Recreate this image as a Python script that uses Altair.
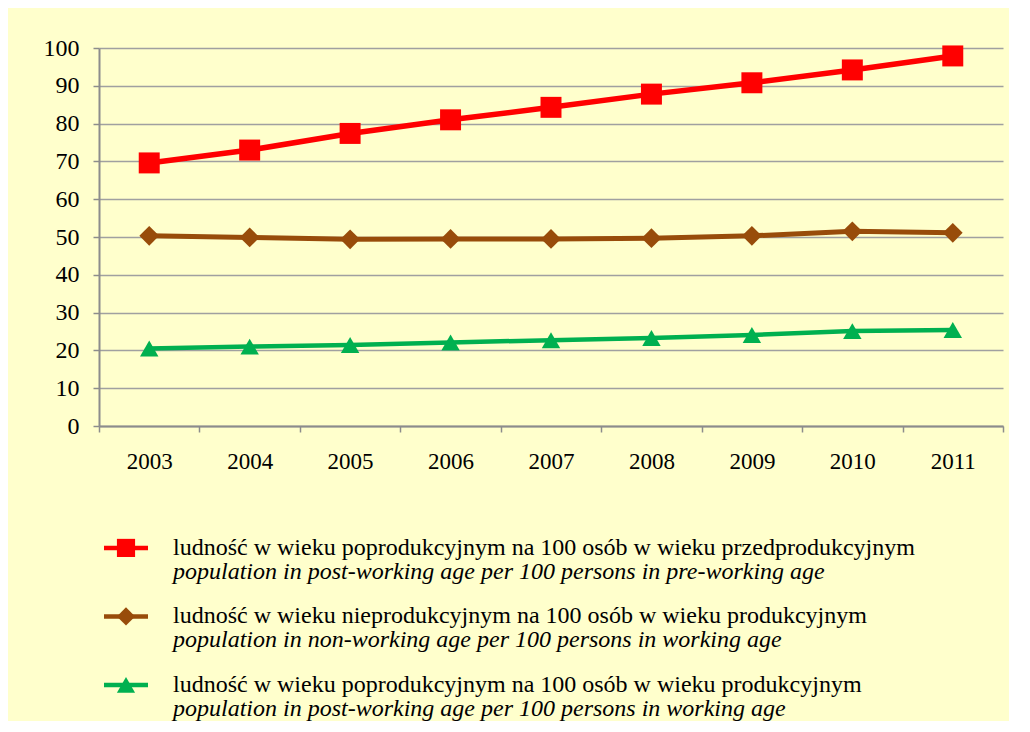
import altair as alt
import pandas as pd

years = ["2003", "2004", "2005", "2006", "2007", "2008", "2009", "2010", "2011"]
post_per_pre = [69.6, 73.0, 77.4, 81.0, 84.3, 87.8, 90.8, 94.2, 97.9]
non_per_working = [50.3, 49.9, 49.4, 49.5, 49.5, 49.7, 50.3, 51.5, 51.1]
post_per_working = [20.5, 21.0, 21.4, 22.1, 22.7, 23.3, 24.1, 25.1, 25.4]

series_pl = [
    "ludność w wieku poprodukcyjnym na 100 osób w wieku przedprodukcyjnym",
    "ludność w wieku nieprodukcyjnym na 100 osób w wieku produkcyjnym",
    "ludność w wieku poprodukcyjnym na 100 osób w wieku produkcyjnym",
]
series_en = [
    "population in post-working age per 100 persons in pre-working age",
    "population in non-working age per 100 persons in working age",
    "population in post-working age per 100 persons in working age",
]
colors = ["#FF0000", "#984C0A", "#00B050"]
shapes = ["square", "diamond", "triangle-up"]

rows = []
for name, vals in zip(series_pl, [post_per_pre, non_per_working, post_per_working]):
    for y, v in zip(years, vals):
        rows.append({"year": y, "series": name, "value": v})
df = pd.DataFrame(rows)

leg = pd.DataFrame({"series": series_pl, "en": series_en, "row": [0, 1, 2]})

FONT = "Liberation Serif"
color_scale = alt.Scale(domain=series_pl, range=colors)
shape_scale = alt.Scale(domain=series_pl, range=shapes)

base = alt.Chart(df).encode(
    x=alt.X("year:N", bandPosition=0.5,
            scale=alt.Scale(type="band", paddingInner=0, paddingOuter=0),
            axis=alt.Axis(title=None, labelAngle=0, grid=False, tickBand="extent",
                          tickSize=6, tickColor="#8C8C8C", tickWidth=1.5,
                          domainColor="#8C8C8C", domainWidth=2,
                          labelFont=FONT, labelFontSize=23, labelColor="black",
                          labelPadding=18)),
    y=alt.Y("value:Q", scale=alt.Scale(domain=[0, 100], nice=False),
            axis=alt.Axis(title=None, values=list(range(0, 101, 10)), grid=True,
                          gridColor="#A0A0A0", gridWidth=1.5,
                          tickSize=6, tickColor="#8C8C8C", tickWidth=1.5,
                          domainColor="#8C8C8C", domainWidth=2,
                          labelFont=FONT, labelFontSize=24, labelColor="black",
                          labelPadding=14)),
    color=alt.Color("series:N", scale=color_scale, legend=None),
)

lines = base.mark_line().encode(
    strokeWidth=alt.StrokeWidth("series:N", scale=alt.Scale(domain=series_pl, range=[5.5, 4.5, 4.5]), legend=None)
)
points = base.mark_point(filled=True, opacity=1).encode(
    shape=alt.Shape("series:N", scale=shape_scale, legend=None),
    size=alt.Size("series:N", scale=alt.Scale(domain=series_pl, range=[440, 340, 400]), legend=None),
)
main = alt.layer(lines, points).properties(width=904, height=378)

lbase = alt.Chart(leg).encode(
    y=alt.Y("row:Q", axis=None, scale=alt.Scale(domain=[-0.51, 2.41], reverse=True, nice=False, zero=False)),
)
lrule = lbase.mark_rule(strokeWidth=4.5).encode(
    x=alt.value(5), x2=alt.value(49),
    color=alt.Color("series:N", scale=color_scale, legend=None))
lpoint = lbase.mark_point(filled=True, opacity=1, size=330).encode(
    x=alt.value(27), shape=alt.Shape("series:N", scale=shape_scale, legend=None),
    color=alt.Color("series:N", scale=color_scale, legend=None))
ltext1 = lbase.mark_text(align="left", baseline="middle", font=FONT, fontSize=24).encode(
    x=alt.value(74), text="series:N", color=alt.value("black"))
ltext2 = lbase.mark_text(align="left", baseline="middle", font=FONT, fontSize=24, fontStyle="italic",
                         dy=24).encode(x=alt.value(74), text="en:N", color=alt.value("black"))
legend = alt.layer(lrule, lpoint, ltext1, ltext2).properties(width=904, height=200)

chart = alt.vconcat(main, legend, spacing=40).properties(
    padding={"left": 35, "top": 28, "right": 5, "bottom": 0},
    background="#FFFFCC",
).configure_view(stroke=None).configure_axis(labelFont=FONT).configure_text(font=FONT)

chart.save("out.html", embed_options={"renderer": "svg", "actions": False})
